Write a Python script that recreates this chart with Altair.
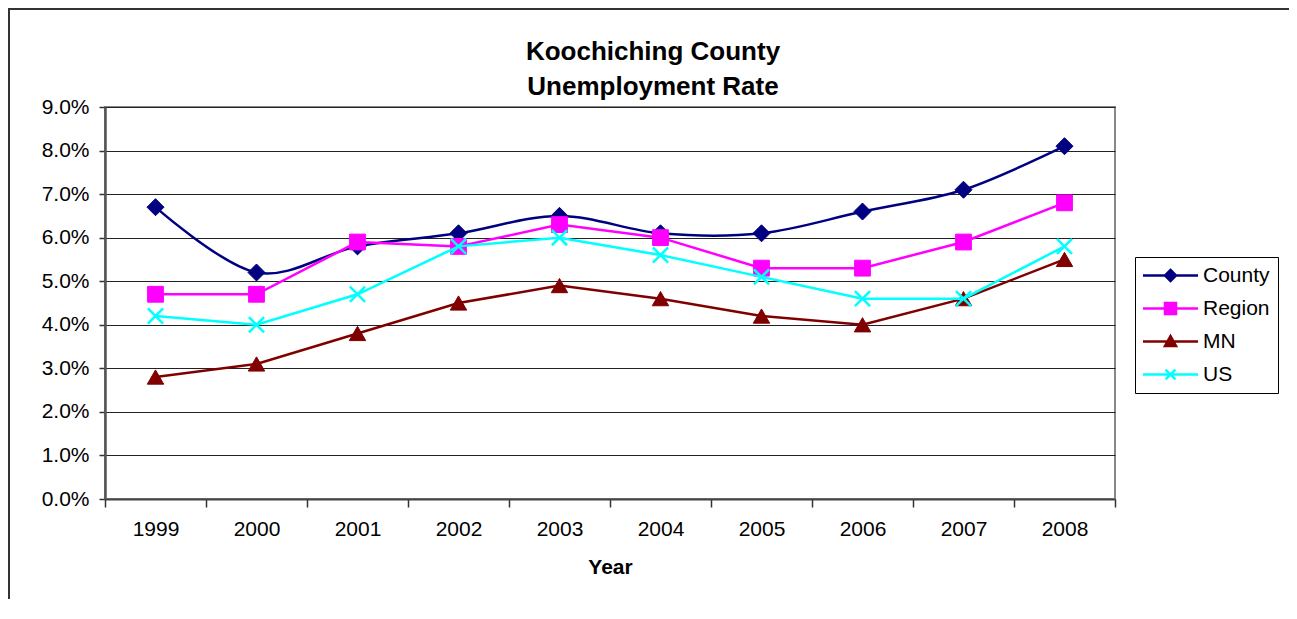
import altair as alt
import pandas as pd

years = ["1999", "2000", "2001", "2002", "2003", "2004", "2005", "2006", "2007", "2008"]
county = [6.7, 5.2, 5.8, 6.1, 6.5, 6.1, 6.1, 6.6, 7.1, 8.1]
region = [4.7, 4.7, 5.9, 5.8, 6.3, 6.0, 5.3, 5.3, 5.9, 6.8]
mn = [2.8, 3.1, 3.8, 4.5, 4.9, 4.6, 4.2, 4.0, 4.6, 5.5]
us = [4.2, 4.0, 4.7, 5.8, 6.0, 5.6, 5.1, 4.6, 4.6, 5.8]
series_names = ["County", "Region", "MN", "US"]
series_colors = ["#000080", "#FF00FF", "#800000", "#00FFFF"]
y_ticks = [0, 1, 2, 3, 4, 5, 6, 7, 8, 9]
title_lines = ["Koochiching County", "Unemployment Rate"]

rows = []
for name, vals in zip(series_names, [county, region, mn, us]):
    for yr, v in zip(years, vals):
        rows.append({"Year": yr, "Series": name, "Rate": v})
df = pd.DataFrame(rows)

FONT = "Liberation Sans"
W, H = 1010, 392

x_enc = alt.X(
    "Year:O",
    bandPosition=0.5,
    scale=alt.Scale(type="band", domain=years, paddingInner=0, paddingOuter=0),
    axis=alt.Axis(
        title="Year", labelAngle=0, tickBand="extent", tickSize=8, tickColor="#333",
        tickWidth=1.5, domainColor="#444", domainWidth=2, labelFontSize=21,
        labelColor="#000", titleFontSize=21, titleFontWeight="bold", titleColor="#000",
        labelPadding=11, titlePadding=17, grid=False,
    ),
)
y_enc = alt.Y(
    "Rate:Q",
    scale=alt.Scale(domain=[0, 9], nice=False, zero=True),
    axis=alt.Axis(
        title=None, values=y_ticks, labelExpr="format(datum.value, '.1f') + '%'",
        tickSize=6, tickColor="#333", tickWidth=1.5, domainColor="#555", domainWidth=2.5,
        labelFontSize=21, labelColor="#000", labelPadding=10, grid=True,
        gridColor="#222", gridWidth=1,
    ),
)

base = alt.Chart(df)

marker_shapes = {
    "County": "diamond",
    "Region": "square",
    "MN": "triangle-up",
    "US": "M-1,-1L1,1M-1,1L1,-1",
}
marker_sizes = {"County": 290, "Region": 250, "MN": 270, "US": 230}
interps = {"County": "cardinal", "Region": "linear", "MN": "linear", "US": "linear"}

layers = []
# outer chart frame (decoration)
frame = alt.Chart(pd.DataFrame({"k": [0]})).mark_rect(
    filled=False, stroke="#333", strokeWidth=2
).encode(x=alt.value(-96), x2=alt.value(1400), y=alt.value(-98), y2=alt.value(800))
layers.append(frame)

# chart title as text
title_y = [-47, -12]
for txt, ty in zip(title_lines, title_y):
    layers.append(
        alt.Chart(pd.DataFrame({"t": [txt]})).mark_text(
            font=FONT, fontSize=26, fontWeight="bold", color="#000",
            align="center", baseline="alphabetic",
        ).encode(text="t:N", x=alt.value(548), y=alt.value(ty))
    )

for name, col in zip(series_names, series_colors):
    sub = base.transform_filter(alt.datum.Series == name)
    line = sub.mark_line(color=col, strokeWidth=2.5, interpolate=interps[name]).encode(x=x_enc, y=y_enc)
    if name == "US":
        pts = sub.mark_point(
            shape=marker_shapes[name], filled=False, stroke=col, strokeWidth=2.5,
            size=marker_sizes[name], opacity=1,
        ).encode(x=x_enc, y=y_enc)
    else:
        pts = sub.mark_point(
            shape=marker_shapes[name], filled=True, fill=col, stroke=col, strokeWidth=1,
            size=marker_sizes[name], opacity=1,
        ).encode(x=x_enc, y=y_enc)
    layers.append(line)
    layers.append(pts)

legend_paths = [
    "M-5,0H5M0,-1L1,0L0,1L-1,0Z",
    "M-5,0H5M-1,-1H1V1H-1Z",
    "M-5,0H5M0,-1L1,0.8L-1,0.8Z",
    "M-5,0H5M-0.9,-0.9L0.9,0.9M-0.9,0.9L0.9,-0.9",
]
leg = alt.Legend(title=None)
legend_layer = base.mark_point(filled=True, clip=True, strokeWidth=2.5, opacity=1).encode(
    x=x_enc,
    y=alt.value(-300),
    shape=alt.Shape("Series:N", scale=alt.Scale(domain=series_names, range=legend_paths), legend=leg),
    fill=alt.Fill("Series:N", scale=alt.Scale(domain=series_names, range=series_colors), legend=leg),
    stroke=alt.Stroke("Series:N", scale=alt.Scale(domain=series_names, range=series_colors), legend=leg),
)
layers.append(legend_layer)

chart = alt.layer(*layers).properties(
    width=W,
    height=H,
    autosize=alt.AutoSizeParams(type="none"),
    padding={"left": 97, "top": 99, "right": 174, "bottom": 100},
).configure(font=FONT).configure_view(
    stroke="#888", strokeWidth=2
).configure_legend(
    orient="none", legendX=1030, legendY=150, padding=8, strokeColor="#000",
    symbolSize=121, symbolOffset=17, labelOffset=22, labelFontSize=21,
    labelColor="#000", rowPadding=11, symbolStrokeWidth=2.5, labelFont=FONT,
    symbolOpacity=1,
)

chart.save("out.html", embed_options={"renderer": "svg", "actions": False})
